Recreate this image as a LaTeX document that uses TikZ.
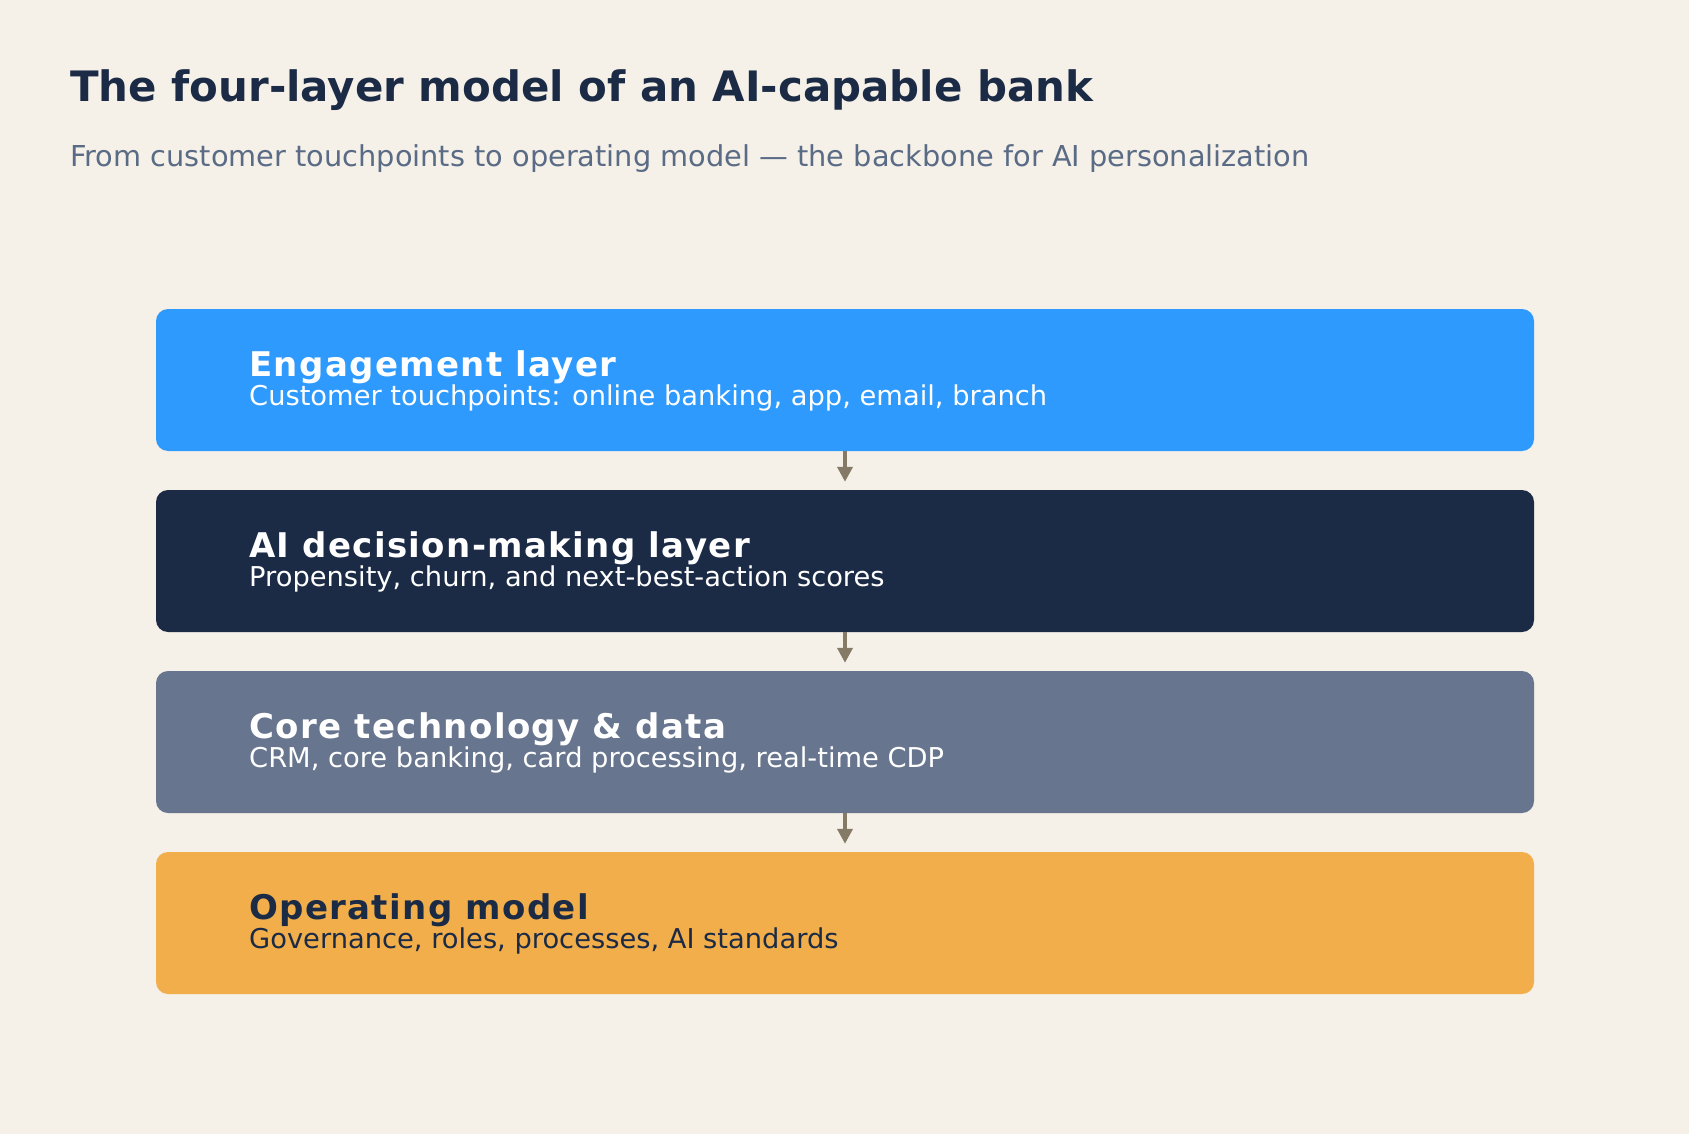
\documentclass[tikz,border=0pt]{standalone}
\usepackage{fontspec}
\setmainfont{DejaVu Sans}
\newfontfamily\spacedfont[LetterSpace=4]{DejaVu Sans}
\usetikzlibrary{arrows.meta}
\definecolor{bg}{HTML}{F5F0E8}
\definecolor{navy}{HTML}{1B2A45}
\definecolor{subgrey}{HTML}{5A6B85}
\definecolor{cblue}{HTML}{2E9AFD}
\definecolor{cslate}{HTML}{67758E}
\definecolor{corange}{HTML}{F1AE4A}
\definecolor{arrowc}{HTML}{857A66}
\begin{document}
\begin{tikzpicture}[x=1pt,y=1pt,
  layer/.style={rounded corners=12pt, minimum width=1378pt, minimum height=142pt, inner sep=0pt, draw=none},
  ltitle/.style={anchor=base west, inner sep=0pt, font=\spacedfont\fontsize{34}{36}\selectfont\bfseries},
  lsub/.style={anchor=base west, inner sep=0pt, font=\fontsize{27.3}{30}\selectfont},
  flow/.style={arrowc, line width=4pt, -{Triangle[length=15pt,width=15pt]}, shorten >=8pt}]
\useasboundingbox (0,0) rectangle (1689,-1134);
\fill[bg] (0,0) rectangle (1689,-1134);
\node[anchor=base west, inner sep=0pt, text=navy, font=\fontsize{41.9}{46}\selectfont\bfseries] (title) at (70,-102) {The four-layer model of an AI-capable bank};
\node[anchor=base west, inner sep=0pt, text=subgrey, font=\fontsize{28.8}{32}\selectfont] (subtitle) at (70,-167) {From customer touchpoints to operating model — the backbone for AI personalization};
\node[layer, fill=cblue] (b1) at (845,-380) {};
\node[layer, fill=navy] (b2) at (845,-561) {};
\node[layer, fill=cslate] (b3) at (845,-742) {};
\node[layer, fill=corange] (b4) at (845,-923) {};
\node[ltitle, text=white] (t1) at (249,-376) {Engagement layer};
\node[lsub, text=white] (s1) at (249,-405) {Customer touchpoints: online banking, app, email, branch};
\node[ltitle, text=white] (t2) at (249,-557) {AI decision-making layer};
\node[lsub, text=white] (s2) at (249,-586) {Propensity, churn, and next-best-action scores};
\node[ltitle, text=white] (t3) at (249,-738) {Core technology \& data};
\node[lsub, text=white] (s3) at (249,-767) {CRM, core banking, card processing, real-time CDP};
\node[ltitle, text=navy] (t4) at (249,-919) {Operating model};
\node[lsub, text=navy] (s4) at (249,-948) {Governance, roles, processes, AI standards};
\draw[flow] (b1.south) -- (b2.north);
\draw[flow] (b2.south) -- (b3.north);
\draw[flow] (b3.south) -- (b4.north);
\end{tikzpicture}
\end{document}
